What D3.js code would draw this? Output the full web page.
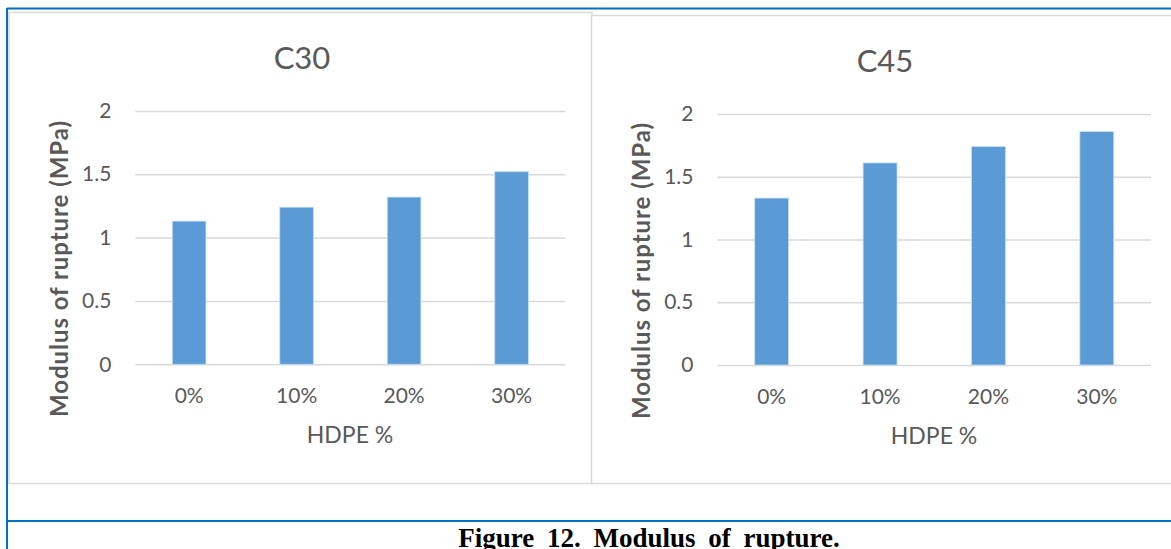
<!DOCTYPE html>
<html><head><meta charset="utf-8">
<script src="https://cdn.jsdelivr.net/npm/d3@7"></script>
<style>
html,body{margin:0;padding:0;background:#fff;}
svg{display:block;}
</style></head>
<body><svg id="chart" width="1171" height="549"></svg>
<script>
const categories = ["0%", "10%", "20%", "30%"];
const c30Values = [1.13, 1.24, 1.32, 1.52];
const c45Values = [1.33, 1.61, 1.74, 1.86];
const yTicks = [0, 0.5, 1, 1.5, 2];
const yTickLabels = ["0", "0.5", "1", "1.5", "2"];
const titles = ["C30", "C45"];
const xAxisTitle = "HDPE %";
const yAxisTitle = "Modulus of rupture (MPa)";
const caption = "Figure 12. Modulus of rupture.";

const svg = d3.select("#chart");
const font = "Lato, 'Open Sans', sans-serif";
const txt = "#595959";

// frame lines
svg.append("line").attr("x1",7).attr("x2",1171).attr("y1",8.5).attr("y2",8.5).attr("stroke","#0070c0").attr("stroke-width",2);
svg.append("line").attr("x1",7).attr("x2",7).attr("y1",8).attr("y2",549).attr("stroke","#0070c0").attr("stroke-width",2);
svg.append("line").attr("x1",7).attr("x2",1171).attr("y1",521).attr("y2",521).attr("stroke","#0070c0").attr("stroke-width",2);

// chart boxes
svg.append("rect").attr("x",9).attr("y",12.5).attr("width",583).attr("height",471).attr("fill","#fff").attr("stroke","#d9d9d9").attr("stroke-width",1.5);
svg.append("rect").attr("x",591.5).attr("y",15.5).attr("width",600).attr("height",468).attr("fill","#fff").attr("stroke","#d9d9d9").attr("stroke-width",1.5);

function drawChart(values, title, cfg) {
  const g = svg.append("g");
  const x = d3.scaleBand().domain(categories).range([cfg.left, cfg.right]).paddingInner(0.687).paddingOuter(0.3435);
  const y = d3.scaleLinear().domain([0, 2]).range([cfg.bottom, cfg.top]);

  // gridlines
  const grid = d3.axisLeft(y).tickValues(yTicks).tickSize(-(cfg.right - cfg.left)).tickFormat("");
  const gg = g.append("g").attr("transform", `translate(${cfg.left},0)`).call(grid);
  gg.select(".domain").remove();
  gg.selectAll("line").attr("stroke", "#d9d9d9").attr("stroke-width", 1.5);

  // y tick labels
  const ya = d3.axisLeft(y).tickValues(yTicks).tickSize(0).tickPadding(0).tickFormat((d,i) => yTickLabels[i]);
  const yg = g.append("g").attr("transform", `translate(${cfg.left - 24},0)`).call(ya);
  yg.select(".domain").remove();
  yg.selectAll("text").attr("fill", txt).style("font-family", font).style("font-size", "21px");

  // bars
  g.selectAll("rect.bar").data(values).join("rect").attr("class","bar")
    .attr("x", (d,i) => x(categories[i]))
    .attr("y", d => y(d))
    .attr("width", x.bandwidth())
    .attr("height", d => y(0) - y(d))
    .attr("fill", "#5b9bd5")
    .attr("stroke", "#c9ddf1").attr("stroke-width", 0.8);

  // x axis labels
  const xa = d3.axisBottom(x).tickSize(0).tickPadding(0);
  const xg = g.append("g").attr("transform", `translate(0,${cfg.bottom + 24})`).call(xa);
  xg.select(".domain").remove();
  xg.selectAll("text").attr("fill", txt).style("font-family", font).style("font-size", "21px");

  // titles
  g.append("text").attr("x", cfg.titleX).attr("y", cfg.titleY).attr("text-anchor","middle")
    .attr("fill", txt).style("font-family", font).style("font-size","31px").text(title);
  g.append("text").attr("x", cfg.xTitleX).attr("y", cfg.bottom + 79).attr("text-anchor","middle")
    .attr("fill", txt).style("font-family", font).style("font-size","23px").text(xAxisTitle);
  g.append("text").attr("transform", `translate(${cfg.yTitleX},${cfg.yTitleY}) rotate(-90)`).attr("text-anchor","middle")
    .attr("fill", txt).style("font-family", font).style("font-size","24px").style("font-weight","bold")
    .attr("textLength", 296).attr("lengthAdjust", "spacing").text(yAxisTitle);
}

drawChart(c30Values, titles[0], {left:135.4, right:565.3, top:110.9, bottom:364.3, titleX:302, titleY:69, xTitleX:350, yTitleX:68, yTitleY:269});
drawChart(c45Values, titles[1], {left:717.5, right:1151, top:114, bottom:365, titleX:885, titleY:72, xTitleX:934, yTitleX:650, yTitleY:271});

svg.append("text").attr("x", 649).attr("y", 547).attr("text-anchor","middle")
  .style("font-family","'Liberation Serif','Times New Roman',serif").style("font-weight","bold")
  .style("font-size","27px").style("word-spacing","6px").attr("fill","#000").text(caption);
</script>
</body></html>
